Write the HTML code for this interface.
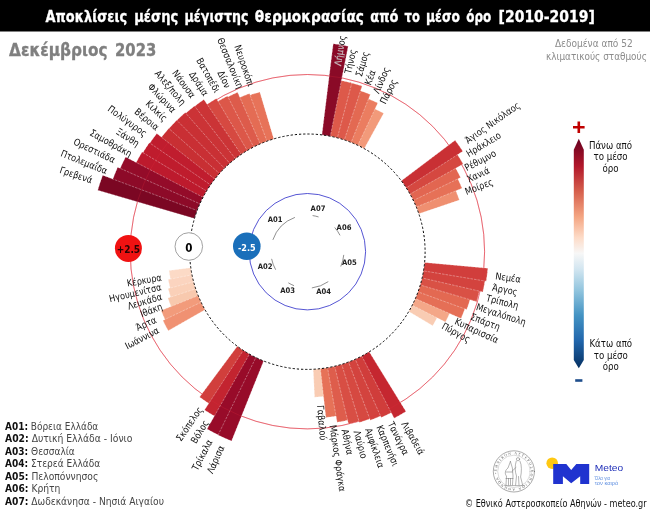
<!DOCTYPE html>
<html lang="el"><head><meta charset="utf-8"><title>Αποκλίσεις μέσης μέγιστης θερμοκρασίας</title>
<style>html,body{margin:0;padding:0;background:#fff}svg{display:block}</style></head>
<body>
<svg width="650" height="511" viewBox="0 0 650 511">
<rect x="0" y="0" width="650" height="511" fill="#ffffff"/>
<rect x="0" y="0" width="650" height="31.5" fill="#000000"/>
<circle cx="307.4" cy="251.7" r="177.2" fill="none" stroke="#dc1f2e" stroke-width="0.65" stroke-opacity="0.9"/>
<g stroke="#ffffff" stroke-width="0.42" stroke-dasharray="2.6 1.0" stroke-opacity="0.8">
<path d="M265.73 141.62L248.38 95.80A166.70 166.70 0 0 1 259.82 91.93L273.81 138.90A117.70 117.70 0 0 0 265.73 141.62Z" fill="#e77359"/>
<path d="M259.03 144.40L238.20 98.18A168.40 168.40 0 0 1 249.49 93.57L266.93 141.18A117.70 117.70 0 0 0 259.03 144.40Z" fill="#e46c54"/>
<path d="M252.52 147.58L226.27 97.77A174.00 174.00 0 0 1 237.62 92.30L260.20 143.88A117.70 117.70 0 0 0 252.52 147.58Z" fill="#dd5b4b"/>
<path d="M246.21 151.15L216.43 102.20A175.00 175.00 0 0 1 227.48 96.01L253.65 146.99A117.70 117.70 0 0 0 246.21 151.15Z" fill="#dc5749"/>
<path d="M240.14 155.11L205.51 105.38A178.30 178.30 0 0 1 216.37 98.39L247.31 150.50A117.70 117.70 0 0 0 240.14 155.11Z" fill="#d64941"/>
<path d="M234.32 159.43L193.16 107.46A184.00 184.00 0 0 1 203.89 99.57L241.19 154.39A117.70 117.70 0 0 0 234.32 159.43Z" fill="#cb3436"/>
<path d="M228.78 164.11L184.29 114.55A184.30 184.30 0 0 1 194.54 106.00L235.33 158.65A117.70 117.70 0 0 0 228.78 164.11Z" fill="#cb3336"/>
<path d="M223.54 169.11L175.51 121.82A185.10 185.10 0 0 1 185.26 112.62L229.73 163.26A117.70 117.70 0 0 0 223.54 169.11Z" fill="#c93034"/>
<path d="M218.61 174.43L167.62 130.06A185.30 185.30 0 0 1 176.79 120.26L224.44 168.21A117.70 117.70 0 0 0 218.61 174.43Z" fill="#c92f34"/>
<path d="M214.02 180.05L160.24 138.77A185.50 185.50 0 0 1 168.79 128.42L219.45 173.48A117.70 117.70 0 0 0 214.02 180.05Z" fill="#c82f33"/>
<path d="M209.79 185.93L148.67 144.75A191.40 191.40 0 0 1 156.83 133.54L214.81 179.04A117.70 117.70 0 0 0 209.79 185.93Z" fill="#c01d2e"/>
<path d="M205.93 192.06L141.87 154.42A192.00 192.00 0 0 1 149.34 142.69L210.51 184.88A117.70 117.70 0 0 0 205.93 192.06Z" fill="#bf1c2d"/>
<path d="M202.45 198.42L135.30 164.34A193.00 193.00 0 0 1 142.08 152.12L206.58 190.97A117.70 117.70 0 0 0 202.45 198.42Z" fill="#bd1a2d"/>
<path d="M199.37 204.99L119.24 170.34A205.00 205.00 0 0 1 125.62 156.93L203.03 197.29A117.70 117.70 0 0 0 199.37 204.99Z" fill="#940b29"/>
<path d="M196.70 211.73L112.05 181.16A207.70 207.70 0 0 1 117.66 167.21L199.88 203.82A117.70 117.70 0 0 0 196.70 211.73Z" fill="#8d0a28"/>
<path d="M194.45 218.62L97.71 190.28A218.50 218.50 0 0 1 102.70 175.27L197.14 210.53A117.70 117.70 0 0 0 194.45 218.62Z" fill="#7b0723"/>
<path d="M192.24 276.03L170.72 280.57A139.70 139.70 0 0 1 168.99 270.61L190.78 267.63A117.70 117.70 0 0 0 192.24 276.03Z" fill="#fcdac6"/>
<path d="M193.96 283.07L170.54 289.55A142.00 142.00 0 0 1 168.16 279.54L191.98 274.78A117.70 117.70 0 0 0 193.96 283.07Z" fill="#fbd4bf"/>
<path d="M196.10 289.99L171.14 298.58A144.10 144.10 0 0 1 168.10 288.60L193.62 281.84A117.70 117.70 0 0 0 196.10 289.99Z" fill="#fad0b8"/>
<path d="M198.67 296.77L171.61 307.99A147.00 147.00 0 0 1 167.89 298.02L195.70 288.79A117.70 117.70 0 0 0 198.67 296.77Z" fill="#f8c9ae"/>
<path d="M201.65 303.38L165.72 320.94A157.70 157.70 0 0 1 161.08 310.51L198.19 295.59A117.70 117.70 0 0 0 201.65 303.38Z" fill="#f29b7b"/>
<path d="M205.04 309.79L168.25 330.67A160.00 160.00 0 0 1 162.90 320.39L201.10 302.23A117.70 117.70 0 0 0 205.04 309.79Z" fill="#f09172"/>
<path d="M244.31 351.06L210.38 404.50A181.00 181.00 0 0 1 199.58 397.08L237.28 346.24A117.70 117.70 0 0 0 244.31 351.06Z" fill="#d13f3c"/>
<path d="M250.55 354.76L216.20 417.01A188.80 188.80 0 0 1 204.48 409.98L243.24 350.37A117.70 117.70 0 0 0 250.55 354.76Z" fill="#c32430"/>
<path d="M257.00 358.06L220.13 435.87A203.80 203.80 0 0 1 207.03 429.07L249.43 354.14A117.70 117.70 0 0 0 257.00 358.06Z" fill="#980b29"/>
<path d="M263.64 360.96L231.56 441.08A204.00 204.00 0 0 1 218.05 435.09L255.85 357.51A117.70 117.70 0 0 0 263.64 360.96Z" fill="#970b29"/>
<path d="M321.68 368.53L325.08 396.32A145.70 145.70 0 0 1 314.57 397.22L313.19 369.26A117.70 117.70 0 0 0 321.68 368.53Z" fill="#f9ccb3"/>
<path d="M328.85 367.43L337.81 415.81A166.90 166.90 0 0 1 325.86 417.58L320.41 368.68A117.70 117.70 0 0 0 328.85 367.43Z" fill="#e67258"/>
<path d="M335.93 365.89L349.38 419.73A173.20 173.20 0 0 1 337.11 422.33L327.59 367.66A117.70 117.70 0 0 0 335.93 365.89Z" fill="#de5d4c"/>
<path d="M342.91 363.92L360.85 420.65A177.20 177.20 0 0 1 348.49 424.07L334.69 366.19A117.70 117.70 0 0 0 342.91 363.92Z" fill="#d84e44"/>
<path d="M349.75 361.52L371.62 418.25A178.50 178.50 0 0 1 359.40 422.46L341.69 364.29A117.70 117.70 0 0 0 349.75 361.52Z" fill="#d64941"/>
<path d="M356.43 358.70L382.34 415.25A179.90 179.90 0 0 1 370.30 420.24L348.55 361.97A117.70 117.70 0 0 0 356.43 358.70Z" fill="#d3433e"/>
<path d="M362.92 355.48L393.02 411.74A181.50 181.50 0 0 1 381.21 417.51L355.26 359.23A117.70 117.70 0 0 0 362.92 355.48Z" fill="#d03d3b"/>
<path d="M369.20 351.87L405.96 411.44A187.70 187.70 0 0 1 394.14 418.15L361.79 356.08A117.70 117.70 0 0 0 369.20 351.87Z" fill="#c52730"/>
<path d="M412.82 304.04L437.72 316.40A145.50 145.50 0 0 1 432.70 325.66L408.76 311.53A117.70 117.70 0 0 0 412.82 304.04Z" fill="#f9ccb3"/>
<path d="M415.85 297.45L450.21 311.94A155.00 155.00 0 0 1 445.48 322.12L412.25 305.18A117.70 117.70 0 0 0 415.85 297.45Z" fill="#f4a788"/>
<path d="M418.46 290.68L465.45 307.18A167.50 167.50 0 0 1 461.02 318.47L415.34 298.62A117.70 117.70 0 0 0 418.46 290.68Z" fill="#e56f56"/>
<path d="M420.65 283.77L470.49 297.89A169.50 169.50 0 0 1 466.72 309.57L418.03 291.88A117.70 117.70 0 0 0 420.65 283.77Z" fill="#e36952"/>
<path d="M422.41 276.74L479.86 289.25A176.50 176.50 0 0 1 476.69 301.63L420.29 285.00A117.70 117.70 0 0 0 422.41 276.74Z" fill="#d95145"/>
<path d="M423.73 269.61L485.30 279.10A180.00 180.00 0 0 1 482.85 291.90L422.13 277.99A117.70 117.70 0 0 0 423.73 269.61Z" fill="#d3433e"/>
<path d="M424.61 262.42L487.85 268.20A181.20 181.20 0 0 1 486.18 281.22L423.53 270.87A117.70 117.70 0 0 0 424.61 262.42Z" fill="#d13e3c"/>
<path d="M415.82 205.89L455.24 189.23A160.50 160.50 0 0 1 459.38 200.09L418.85 213.85A117.70 117.70 0 0 0 415.82 205.89Z" fill="#ef8f70"/>
<path d="M412.79 199.30L457.03 177.31A167.10 167.10 0 0 1 462.02 188.33L416.31 207.06A117.70 117.70 0 0 0 412.79 199.30Z" fill="#e67157"/>
<path d="M409.37 192.91L454.85 166.69A170.20 170.20 0 0 1 460.61 177.58L413.35 200.44A117.70 117.70 0 0 0 409.37 192.91Z" fill="#e26651"/>
<path d="M405.55 186.74L456.42 153.08A178.70 178.70 0 0 1 463.17 164.12L410.00 194.02A117.70 117.70 0 0 0 405.55 186.74Z" fill="#d54840"/>
<path d="M401.37 180.83L455.10 140.30A185.00 185.00 0 0 1 462.77 151.28L406.25 187.81A117.70 117.70 0 0 0 401.37 180.83Z" fill="#c93034"/>
<path d="M356.62 144.79L373.48 108.18A158.00 158.00 0 0 1 383.69 113.34L364.23 148.63A117.70 117.70 0 0 0 356.62 144.79Z" fill="#f29a7a"/>
<path d="M349.95 141.96L366.87 98.33A164.50 164.50 0 0 1 377.81 103.03L357.78 145.33A117.70 117.70 0 0 0 349.95 141.96Z" fill="#eb7d60"/>
<path d="M343.11 139.55L358.80 90.29A169.40 169.40 0 0 1 370.35 94.43L351.14 142.43A117.70 117.70 0 0 0 343.11 139.55Z" fill="#e36952"/>
<path d="M336.14 137.56L350.01 82.48A174.50 174.50 0 0 1 362.14 86.01L344.33 139.94A117.70 117.70 0 0 0 336.14 137.56Z" fill="#dd594a"/>
<path d="M329.06 136.01L339.51 80.18A174.50 174.50 0 0 1 351.84 82.95L337.38 137.88A117.70 117.70 0 0 0 329.06 136.01Z" fill="#dd594a"/>
<path d="M321.90 134.90L333.20 43.80A209.50 209.50 0 0 1 348.18 46.21L330.31 136.25A117.70 117.70 0 0 0 321.90 134.90Z" fill="#8a0a27"/>
</g>
<circle cx="307.4" cy="251.7" r="177.2" fill="none" stroke="#e0293a" stroke-width="0.6" stroke-opacity="0.4"/>
<circle cx="307.4" cy="251.7" r="117.7" fill="none" stroke="#000" stroke-width="1" stroke-dasharray="2.2 2"/>
<circle cx="307.4" cy="251.7" r="58.2" fill="none" stroke="#2a2ac8" stroke-width="0.8"/>
<path d="M272.87 239.88A36.5 36.5 0 0 1 294.92 217.40" fill="none" stroke="#333" stroke-width="0.55"/>
<path d="M312.61 215.57A36.5 36.5 0 0 1 318.56 216.95" fill="none" stroke="#333" stroke-width="0.55"/>
<path d="M334.69 227.47A36.5 36.5 0 0 1 340.04 235.36" fill="none" stroke="#333" stroke-width="0.55"/>
<path d="M343.76 254.88A36.5 36.5 0 0 1 340.77 266.49" fill="none" stroke="#333" stroke-width="0.55"/>
<path d="M328.28 281.64A36.5 36.5 0 0 1 311.85 287.93" fill="none" stroke="#333" stroke-width="0.55"/>
<path d="M294.02 285.66A36.5 36.5 0 0 1 288.33 282.82" fill="none" stroke="#333" stroke-width="0.55"/>
<path d="M275.66 269.73A36.5 36.5 0 0 1 271.61 258.85" fill="none" stroke="#333" stroke-width="0.55"/>
<text x="275.1" y="219.5" font-family='"DejaVu Sans Condensed","DejaVu Sans","Liberation Sans",sans-serif' font-size="7.6" font-weight="bold" fill="#222" text-anchor="middle" dominant-baseline="central">A01</text>
<text x="318.0" y="208.5" font-family='"DejaVu Sans Condensed","DejaVu Sans","Liberation Sans",sans-serif' font-size="7.6" font-weight="bold" fill="#222" text-anchor="middle" dominant-baseline="central">A07</text>
<text x="344.0" y="227.0" font-family='"DejaVu Sans Condensed","DejaVu Sans","Liberation Sans",sans-serif' font-size="7.6" font-weight="bold" fill="#222" text-anchor="middle" dominant-baseline="central">A06</text>
<text x="349.3" y="262.3" font-family='"DejaVu Sans Condensed","DejaVu Sans","Liberation Sans",sans-serif' font-size="7.6" font-weight="bold" fill="#222" text-anchor="middle" dominant-baseline="central">A05</text>
<text x="323.6" y="291.4" font-family='"DejaVu Sans Condensed","DejaVu Sans","Liberation Sans",sans-serif' font-size="7.6" font-weight="bold" fill="#222" text-anchor="middle" dominant-baseline="central">A04</text>
<text x="287.6" y="290.8" font-family='"DejaVu Sans Condensed","DejaVu Sans","Liberation Sans",sans-serif' font-size="7.6" font-weight="bold" fill="#222" text-anchor="middle" dominant-baseline="central">A03</text>
<text x="265.1" y="266.4" font-family='"DejaVu Sans Condensed","DejaVu Sans","Liberation Sans",sans-serif' font-size="7.6" font-weight="bold" fill="#222" text-anchor="middle" dominant-baseline="central">A02</text>
<text transform="translate(337.38 65.60) rotate(-80.85) scale(0.95 1)" font-family='"DejaVu Sans Condensed","DejaVu Sans","Liberation Sans",sans-serif' font-size="9.6" fill="#111" text-anchor="start" dy="0.37em">Λήμνος</text>
<clipPath id="lem"><path d="M321.90 134.90L333.20 43.80A209.50 209.50 0 0 1 348.18 46.21L330.31 136.25A117.70 117.70 0 0 0 321.90 134.90Z"/></clipPath>
<g clip-path="url(#lem)"><text transform="translate(337.38 65.60) rotate(-80.85) scale(0.95 1)" font-family='"DejaVu Sans Condensed","DejaVu Sans","Liberation Sans",sans-serif' font-size="9.6" fill="#d8b4bd" stroke="#d8b4bd" stroke-width="0.25" text-anchor="start" dy="0.37em">Λήμνος</text></g>
<text transform="translate(347.52 73.36) rotate(-77.32) scale(0.95 1)" font-family='"DejaVu Sans Condensed","DejaVu Sans","Liberation Sans",sans-serif' font-size="9.6" fill="#111" text-anchor="start" dy="0.37em">Τήνος</text>
<text transform="translate(358.43 76.17) rotate(-73.79) scale(0.95 1)" font-family='"DejaVu Sans Condensed","DejaVu Sans","Liberation Sans",sans-serif' font-size="9.6" fill="#111" text-anchor="start" dy="0.37em">Σάμος</text>
<text transform="translate(367.41 84.44) rotate(-70.26) scale(0.95 1)" font-family='"DejaVu Sans Condensed","DejaVu Sans","Liberation Sans",sans-serif' font-size="9.6" fill="#111" text-anchor="start" dy="0.37em">Κέα</text>
<text transform="translate(375.66 92.95) rotate(-66.73) scale(0.95 1)" font-family='"DejaVu Sans Condensed","DejaVu Sans","Liberation Sans",sans-serif' font-size="9.6" fill="#111" text-anchor="start" dy="0.37em">Λίνδος</text>
<text transform="translate(382.37 103.26) rotate(-63.20) scale(0.95 1)" font-family='"DejaVu Sans Condensed","DejaVu Sans","Liberation Sans",sans-serif' font-size="9.6" fill="#111" text-anchor="start" dy="0.37em">Πάρος</text>
<text transform="translate(465.84 140.97) rotate(-34.95) scale(0.95 1)" font-family='"DejaVu Sans Condensed","DejaVu Sans","Liberation Sans",sans-serif' font-size="9.6" fill="#111" text-anchor="start" dy="0.37em">Άγιος Νικόλαος</text>
<text transform="translate(466.98 154.21) rotate(-31.42) scale(0.95 1)" font-family='"DejaVu Sans Condensed","DejaVu Sans","Liberation Sans",sans-serif' font-size="9.6" fill="#111" text-anchor="start" dy="0.37em">Ηράκλειο</text>
<text transform="translate(465.17 168.20) rotate(-27.89) scale(0.95 1)" font-family='"DejaVu Sans Condensed","DejaVu Sans","Liberation Sans",sans-serif' font-size="9.6" fill="#111" text-anchor="start" dy="0.37em">Ρέθυμνο</text>
<text transform="translate(467.18 179.35) rotate(-24.36) scale(0.95 1)" font-family='"DejaVu Sans Condensed","DejaVu Sans","Liberation Sans",sans-serif' font-size="9.6" fill="#111" text-anchor="start" dy="0.37em">Χανιά</text>
<text transform="translate(465.16 191.67) rotate(-20.83) scale(0.95 1)" font-family='"DejaVu Sans Condensed","DejaVu Sans","Liberation Sans",sans-serif' font-size="9.6" fill="#111" text-anchor="start" dy="0.37em">Μοίρες</text>
<text transform="translate(495.36 275.78) rotate(7.30) scale(0.95 1)" font-family='"DejaVu Sans Condensed","DejaVu Sans","Liberation Sans",sans-serif' font-size="9.6" fill="#111" text-anchor="start" dy="0.37em">Νεμέα</text>
<text transform="translate(492.35 287.08) rotate(10.83) scale(0.95 1)" font-family='"DejaVu Sans Condensed","DejaVu Sans","Liberation Sans",sans-serif' font-size="9.6" fill="#111" text-anchor="start" dy="0.37em">Άργος</text>
<text transform="translate(486.43 297.53) rotate(14.36) scale(0.95 1)" font-family='"DejaVu Sans Condensed","DejaVu Sans","Liberation Sans",sans-serif' font-size="9.6" fill="#111" text-anchor="start" dy="0.37em">Τρίπολη</text>
<text transform="translate(476.60 306.31) rotate(17.89) scale(0.95 1)" font-family='"DejaVu Sans Condensed","DejaVu Sans","Liberation Sans",sans-serif' font-size="9.6" fill="#111" text-anchor="start" dy="0.37em">Μεγαλόπολη</text>
<text transform="translate(471.06 315.90) rotate(21.42) scale(0.95 1)" font-family='"DejaVu Sans Condensed","DejaVu Sans","Liberation Sans",sans-serif' font-size="9.6" fill="#111" text-anchor="start" dy="0.37em">Σπάρτη</text>
<text transform="translate(455.46 320.58) rotate(24.95) scale(0.95 1)" font-family='"DejaVu Sans Condensed","DejaVu Sans","Liberation Sans",sans-serif' font-size="9.6" fill="#111" text-anchor="start" dy="0.37em">Κυπαρισσία</text>
<text transform="translate(442.59 325.03) rotate(28.48) scale(0.95 1)" font-family='"DejaVu Sans Condensed","DejaVu Sans","Liberation Sans",sans-serif' font-size="9.6" fill="#111" text-anchor="start" dy="0.37em">Πύργος</text>
<text transform="translate(404.21 422.12) rotate(60.40) scale(0.95 1)" font-family='"DejaVu Sans Condensed","DejaVu Sans","Liberation Sans",sans-serif' font-size="9.6" fill="#111" text-anchor="start" dy="0.37em">Λιβαδειά</text>
<text transform="translate(390.81 422.19) rotate(63.93) scale(0.95 1)" font-family='"DejaVu Sans Condensed","DejaVu Sans","Liberation Sans",sans-serif' font-size="9.6" fill="#111" text-anchor="start" dy="0.37em">Τανάγρα</text>
<text transform="translate(379.55 425.52) rotate(67.46) scale(0.95 1)" font-family='"DejaVu Sans Condensed","DejaVu Sans","Liberation Sans",sans-serif' font-size="9.6" fill="#111" text-anchor="start" dy="0.37em">Καρπενήσι</text>
<text transform="translate(368.25 428.31) rotate(70.99) scale(0.95 1)" font-family='"DejaVu Sans Condensed","DejaVu Sans","Liberation Sans",sans-serif' font-size="9.6" fill="#111" text-anchor="start" dy="0.37em">Αμφίκλεια</text>
<text transform="translate(356.92 430.47) rotate(74.52) scale(0.95 1)" font-family='"DejaVu Sans Condensed","DejaVu Sans","Liberation Sans",sans-serif' font-size="9.6" fill="#111" text-anchor="start" dy="0.37em">Λαύριο</text>
<text transform="translate(344.99 429.26) rotate(78.05) scale(0.95 1)" font-family='"DejaVu Sans Condensed","DejaVu Sans","Liberation Sans",sans-serif' font-size="9.6" fill="#111" text-anchor="start" dy="0.37em">Αθήνα</text>
<text transform="translate(333.06 425.01) rotate(81.58) scale(0.95 1)" font-family='"DejaVu Sans Condensed","DejaVu Sans","Liberation Sans",sans-serif' font-size="9.6" fill="#111" text-anchor="start" dy="0.37em">Μάρκος Φράγκα</text>
<text transform="translate(320.54 405.14) rotate(85.11) scale(0.95 1)" font-family='"DejaVu Sans Condensed","DejaVu Sans","Liberation Sans",sans-serif' font-size="9.6" fill="#111" text-anchor="start" dy="0.37em">Γαβαλού</text>
<text transform="translate(221.39 445.80) rotate(-66.10) scale(0.95 1)" font-family='"DejaVu Sans Condensed","DejaVu Sans","Liberation Sans",sans-serif' font-size="9.6" fill="#111" text-anchor="end" dy="0.37em">Λάρισα</text>
<text transform="translate(209.69 439.96) rotate(-62.57) scale(0.95 1)" font-family='"DejaVu Sans Condensed","DejaVu Sans","Liberation Sans",sans-serif' font-size="9.6" fill="#111" text-anchor="end" dy="0.37em">Τρίκαλα</text>
<text transform="translate(206.01 420.72) rotate(-59.04) scale(0.95 1)" font-family='"DejaVu Sans Condensed","DejaVu Sans","Liberation Sans",sans-serif' font-size="9.6" fill="#111" text-anchor="end" dy="0.37em">Βόλος</text>
<text transform="translate(200.21 407.73) rotate(-55.51) scale(0.95 1)" font-family='"DejaVu Sans Condensed","DejaVu Sans","Liberation Sans",sans-serif' font-size="9.6" fill="#111" text-anchor="end" dy="0.37em">Σκόπελος</text>
<text transform="translate(158.12 329.41) rotate(-27.50) scale(0.95 1)" font-family='"DejaVu Sans Condensed","DejaVu Sans","Liberation Sans",sans-serif' font-size="9.6" fill="#111" text-anchor="end" dy="0.37em">Ιωάννινα</text>
<text transform="translate(155.72 319.14) rotate(-23.97) scale(0.95 1)" font-family='"DejaVu Sans Condensed","DejaVu Sans","Liberation Sans",sans-serif' font-size="9.6" fill="#111" text-anchor="end" dy="0.37em">Άρτα</text>
<text transform="translate(161.88 305.94) rotate(-20.44) scale(0.95 1)" font-family='"DejaVu Sans Condensed","DejaVu Sans","Liberation Sans",sans-serif' font-size="9.6" fill="#111" text-anchor="end" dy="0.37em">Ιθάκη</text>
<text transform="translate(161.59 296.03) rotate(-16.91) scale(0.95 1)" font-family='"DejaVu Sans Condensed","DejaVu Sans","Liberation Sans",sans-serif' font-size="9.6" fill="#111" text-anchor="end" dy="0.37em">Λευκάδα</text>
<text transform="translate(161.18 286.49) rotate(-13.38) scale(0.95 1)" font-family='"DejaVu Sans Condensed","DejaVu Sans","Liberation Sans",sans-serif' font-size="9.6" fill="#111" text-anchor="end" dy="0.37em">Ηγουμενίτσα</text>
<text transform="translate(161.58 277.03) rotate(-9.85) scale(0.95 1)" font-family='"DejaVu Sans Condensed","DejaVu Sans","Liberation Sans",sans-serif' font-size="9.6" fill="#111" text-anchor="end" dy="0.37em">Κέρκυρα</text>
<text transform="translate(92.19 180.11) rotate(18.40) scale(0.95 1)" font-family='"DejaVu Sans Condensed","DejaVu Sans","Liberation Sans",sans-serif' font-size="9.6" fill="#111" text-anchor="end" dy="0.37em">Γρεβενά</text>
<text transform="translate(107.03 171.03) rotate(21.93) scale(0.95 1)" font-family='"DejaVu Sans Condensed","DejaVu Sans","Liberation Sans",sans-serif' font-size="9.6" fill="#111" text-anchor="end" dy="0.37em">Πτολεμαΐδα</text>
<text transform="translate(114.81 160.01) rotate(25.46) scale(0.95 1)" font-family='"DejaVu Sans Condensed","DejaVu Sans","Liberation Sans",sans-serif' font-size="9.6" fill="#111" text-anchor="end" dy="0.37em">Ορεστιάδα</text>
<text transform="translate(131.32 154.14) rotate(28.99) scale(0.95 1)" font-family='"DejaVu Sans Condensed","DejaVu Sans","Liberation Sans",sans-serif' font-size="9.6" fill="#111" text-anchor="end" dy="0.37em">Σαμοθράκη</text>
<text transform="translate(138.50 144.03) rotate(32.52) scale(0.95 1)" font-family='"DejaVu Sans Condensed","DejaVu Sans","Liberation Sans",sans-serif' font-size="9.6" fill="#111" text-anchor="end" dy="0.37em">Ξάνθη</text>
<text transform="translate(145.94 134.19) rotate(36.05) scale(0.95 1)" font-family='"DejaVu Sans Condensed","DejaVu Sans","Liberation Sans",sans-serif' font-size="9.6" fill="#111" text-anchor="end" dy="0.37em">Πολύγυρος</text>
<text transform="translate(158.02 128.23) rotate(39.58) scale(0.95 1)" font-family='"DejaVu Sans Condensed","DejaVu Sans","Liberation Sans",sans-serif' font-size="9.6" fill="#111" text-anchor="end" dy="0.37em">Βέροια</text>
<text transform="translate(166.05 119.40) rotate(43.11) scale(0.95 1)" font-family='"DejaVu Sans Condensed","DejaVu Sans","Liberation Sans",sans-serif' font-size="9.6" fill="#111" text-anchor="end" dy="0.37em">Κιλκίς</text>
<text transform="translate(174.60 111.10) rotate(46.64) scale(0.95 1)" font-family='"DejaVu Sans Condensed","DejaVu Sans","Liberation Sans",sans-serif' font-size="9.6" fill="#111" text-anchor="end" dy="0.37em">Φλώρινα</text>
<text transform="translate(184.02 103.80) rotate(50.16) scale(0.95 1)" font-family='"DejaVu Sans Condensed","DejaVu Sans","Liberation Sans",sans-serif' font-size="9.6" fill="#111" text-anchor="end" dy="0.37em">Αλεξ/πολη</text>
<text transform="translate(193.54 96.73) rotate(53.69) scale(0.95 1)" font-family='"DejaVu Sans Condensed","DejaVu Sans","Liberation Sans",sans-serif' font-size="9.6" fill="#111" text-anchor="end" dy="0.37em">Νάουσα</text>
<text transform="translate(206.38 94.81) rotate(57.22) scale(0.95 1)" font-family='"DejaVu Sans Condensed","DejaVu Sans","Liberation Sans",sans-serif' font-size="9.6" fill="#111" text-anchor="end" dy="0.37em">Δράμα</text>
<text transform="translate(217.84 91.77) rotate(60.75) scale(0.95 1)" font-family='"DejaVu Sans Condensed","DejaVu Sans","Liberation Sans",sans-serif' font-size="9.6" fill="#111" text-anchor="end" dy="0.37em">Βατοπέδι</text>
<text transform="translate(228.29 87.46) rotate(64.28) scale(0.95 1)" font-family='"DejaVu Sans Condensed","DejaVu Sans","Liberation Sans",sans-serif' font-size="9.6" fill="#111" text-anchor="end" dy="0.37em">Δίον</text>
<text transform="translate(240.67 88.08) rotate(67.81) scale(0.95 1)" font-family='"DejaVu Sans Condensed","DejaVu Sans","Liberation Sans",sans-serif' font-size="9.6" fill="#111" text-anchor="end" dy="0.37em">Θεσσαλονίκη</text>
<text transform="translate(251.41 85.90) rotate(71.34) scale(0.95 1)" font-family='"DejaVu Sans Condensed","DejaVu Sans","Liberation Sans",sans-serif' font-size="9.6" fill="#111" text-anchor="end" dy="0.37em">Νευροκόπι</text>
<circle cx="128.4" cy="248.4" r="13.5" fill="#f01212"/>
<text x="128.4" y="249.6" font-family='"DejaVu Sans Condensed","DejaVu Sans","Liberation Sans",sans-serif' font-size="10" font-weight="bold" fill="#2a0404" text-anchor="middle" dy="0.36em">+2.5</text>
<circle cx="188.8" cy="246.5" r="13.8" fill="#fff" stroke="#8a8a8a" stroke-width="0.8"/>
<text x="188.8" y="247.6" font-family='"DejaVu Sans Condensed","DejaVu Sans","Liberation Sans",sans-serif' font-size="11.5" font-weight="bold" fill="#000" text-anchor="middle" dy="0.36em">0</text>
<circle cx="246.8" cy="246.3" r="13.8" fill="#1a6fba"/>
<text x="246.8" y="247.4" font-family='"DejaVu Sans Condensed","DejaVu Sans","Liberation Sans",sans-serif' font-size="9" font-weight="bold" fill="#fff" text-anchor="middle" dy="0.36em">-2.5</text>
<g font-family='"DejaVu Sans Condensed","DejaVu Sans","Liberation Sans",sans-serif' font-size="15.6" font-weight="bold" fill="#fff" stroke="#fff" stroke-width="0.3">
<text transform="translate(45.60 21.7) scale(0.9231 1)">Αποκλίσεις</text>
<text transform="translate(134.20 21.7) scale(0.9325 1)">μέσης</text>
<text transform="translate(184.60 21.7) scale(0.8964 1)">μέγιστης</text>
<text transform="translate(254.80 21.7) scale(0.9794 1)">θερμοκρασίας</text>
<text transform="translate(370.20 21.7) scale(0.9276 1)">από</text>
<text transform="translate(404.60 21.7) scale(0.8226 1)">το</text>
<text transform="translate(426.00 21.7) scale(0.8786 1)">μέσο</text>
<text transform="translate(466.20 21.7) scale(0.8532 1)">όρο</text>
<text transform="translate(498.60 21.7) scale(0.9959 1)">[2010-2019]</text>
</g>
<g font-family='"DejaVu Sans Condensed","DejaVu Sans","Liberation Sans",sans-serif' font-size="17.3" font-weight="bold" fill="#7f7f7f" stroke="#7f7f7f" stroke-width="0.3"><text x="9.1" y="55.8" textLength="98.5" lengthAdjust="spacingAndGlyphs">Δεκέμβριος</text><text x="115" y="55.8" textLength="41.3" lengthAdjust="spacingAndGlyphs">2023</text></g>
<g font-family='"DejaVu Sans Condensed","DejaVu Sans","Liberation Sans",sans-serif' font-size="10" fill="#8c8c8c"><text x="554.9" y="46.9" textLength="77.8" lengthAdjust="spacingAndGlyphs">Δεδομένα από 52</text><text x="545.9" y="59.9" textLength="101" lengthAdjust="spacingAndGlyphs">κλιματικούς σταθμούς</text></g>
<defs><linearGradient id="cb" x1="0" y1="0" x2="0" y2="1">
<stop offset="0.00" stop-color="#67001f"/>
<stop offset="0.12" stop-color="#b2182b"/>
<stop offset="0.23" stop-color="#d6604d"/>
<stop offset="0.34" stop-color="#f4a582"/>
<stop offset="0.43" stop-color="#fddbc7"/>
<stop offset="0.50" stop-color="#f7f7f7"/>
<stop offset="0.57" stop-color="#d1e5f0"/>
<stop offset="0.66" stop-color="#92c5de"/>
<stop offset="0.77" stop-color="#4393c3"/>
<stop offset="0.88" stop-color="#2166ac"/>
<stop offset="1.00" stop-color="#053061"/>
</linearGradient></defs>
<path d="M578.8 138.8L583.8 149.7L583.8 360L578.8 368.2L573.8 360L573.8 149.7Z" fill="url(#cb)"/>
<path d="M573 127.3H584.6M578.8 121.5V133.1" stroke="#c00000" stroke-width="2.6" fill="none"/>
<rect x="575.2" y="379.2" width="7.2" height="2.6" fill="#1f4e8c"/>
<text font-family='"DejaVu Sans Condensed","DejaVu Sans","Liberation Sans",sans-serif' font-size="9.6" fill="#111" text-anchor="middle"><tspan x="610.5" y="149">Πάνω από</tspan><tspan x="610.5" y="160.3">το μέσο</tspan><tspan x="610.5" y="171.6">όρο</tspan></text>
<text font-family='"DejaVu Sans Condensed","DejaVu Sans","Liberation Sans",sans-serif' font-size="9.6" fill="#111" text-anchor="middle"><tspan x="610.8" y="347">Κάτω από</tspan><tspan x="610.8" y="358.5">το μέσο</tspan><tspan x="610.8" y="370">όρο</tspan></text>
<text x="5" y="429.6" font-family='"DejaVu Sans Condensed","DejaVu Sans","Liberation Sans",sans-serif' font-size="10.4" fill="#444" textLength="93.3" lengthAdjust="spacingAndGlyphs"><tspan font-weight="bold" fill="#111">A01:</tspan> Βόρεια Ελλάδα</text>
<text x="5" y="442.1" font-family='"DejaVu Sans Condensed","DejaVu Sans","Liberation Sans",sans-serif' font-size="10.4" fill="#444" textLength="127.4" lengthAdjust="spacingAndGlyphs"><tspan font-weight="bold" fill="#111">A02:</tspan> Δυτική Ελλάδα - Ιόνιο</text>
<text x="5" y="454.6" font-family='"DejaVu Sans Condensed","DejaVu Sans","Liberation Sans",sans-serif' font-size="10.4" fill="#444" textLength="69.8" lengthAdjust="spacingAndGlyphs"><tspan font-weight="bold" fill="#111">A03:</tspan> Θεσσαλία</text>
<text x="5" y="467.1" font-family='"DejaVu Sans Condensed","DejaVu Sans","Liberation Sans",sans-serif' font-size="10.4" fill="#444" textLength="95.3" lengthAdjust="spacingAndGlyphs"><tspan font-weight="bold" fill="#111">A04:</tspan> Στερεά Ελλάδα</text>
<text x="5" y="479.6" font-family='"DejaVu Sans Condensed","DejaVu Sans","Liberation Sans",sans-serif' font-size="10.4" fill="#444" textLength="93.3" lengthAdjust="spacingAndGlyphs"><tspan font-weight="bold" fill="#111">A05:</tspan> Πελοπόννησος</text>
<text x="5" y="492.1" font-family='"DejaVu Sans Condensed","DejaVu Sans","Liberation Sans",sans-serif' font-size="10.4" fill="#444" textLength="55.4" lengthAdjust="spacingAndGlyphs"><tspan font-weight="bold" fill="#111">A06:</tspan> Κρήτη</text>
<text x="5" y="504.6" font-family='"DejaVu Sans Condensed","DejaVu Sans","Liberation Sans",sans-serif' font-size="10.4" fill="#444" textLength="159.0" lengthAdjust="spacingAndGlyphs"><tspan font-weight="bold" fill="#111">A07:</tspan> Δωδεκάνησα - Νησιά Αιγαίου</text>
<text x="646.6" y="506.8" font-family='"DejaVu Sans Condensed","DejaVu Sans","Liberation Sans",sans-serif' font-size="9.6" fill="#111" text-anchor="end" textLength="181.6" lengthAdjust="spacingAndGlyphs">© Εθνικό Αστεροσκοπείο Αθηνών - meteo.gr</text>
<g fill="none" stroke="#6a6a6a" stroke-width="0.5" stroke-linecap="round">
<circle cx="513.9" cy="471.4" r="20.6" stroke="#666" stroke-width="0.55"/><circle cx="513.9" cy="471.4" r="16.2" stroke="#999" stroke-width="0.35"/><path id="sealp" d="M496.9 471.4A17 17 0 1 1 530.9 471.4A17 17 0 1 1 496.9 471.4" stroke="none"/><text font-family='"Liberation Serif",serif' font-size="3.6" fill="#555" stroke="none"><textPath href="#sealp" textLength="105" lengthAdjust="spacing">ΕΘΝΙΚΟΝ ΑΣΤΕΡΟΣΚΟΠΕΙΟΝ ΑΘΗΝΩΝ •</textPath></text>
<circle cx="518" cy="459.2" r="1.6"/>
<path d="M516.2 461.2C514.6 466 515 472 516.5 476L515.6 485M520 461.2C522 465 521.6 472 520.6 477L522.6 485M516 467.5L512.2 471M518.5 476.5L519 485"/>
<path d="M510.4 461.5L508 468C505 470 504.5 474 506.5 476L506 485M510.4 461.5L512.4 468L513 476L512.5 485M506.5 472h6M506 478.5h7M508.5 478.5V485M510.5 478.5V485M504.5 485.6H524.5"/>
</g>
<circle cx="552.2" cy="463.2" r="5.8" fill="#ffc812"/>
<path d="M553.2 463.9H566.3L571.2 470.1L576.3 463.9H589.2V483.9H580.2V476.3L571.2 483.2L562.9 476.3V483.9H553.2Z" fill="#2033cf"/>
<text x="594.7" y="470.8" font-family='"Liberation Sans",sans-serif' font-size="9.8" fill="#2030b8" textLength="28.4" lengthAdjust="spacingAndGlyphs">Meteo</text>
<g font-family='"Liberation Sans",sans-serif' font-size="5" fill="#5f8fe0"><text x="594.7" y="479.6" textLength="15.3" lengthAdjust="spacingAndGlyphs">Όλα για</text><text x="594.7" y="484.9" textLength="23.6" lengthAdjust="spacingAndGlyphs">τον καιρό</text></g>
</svg>
</body></html>
